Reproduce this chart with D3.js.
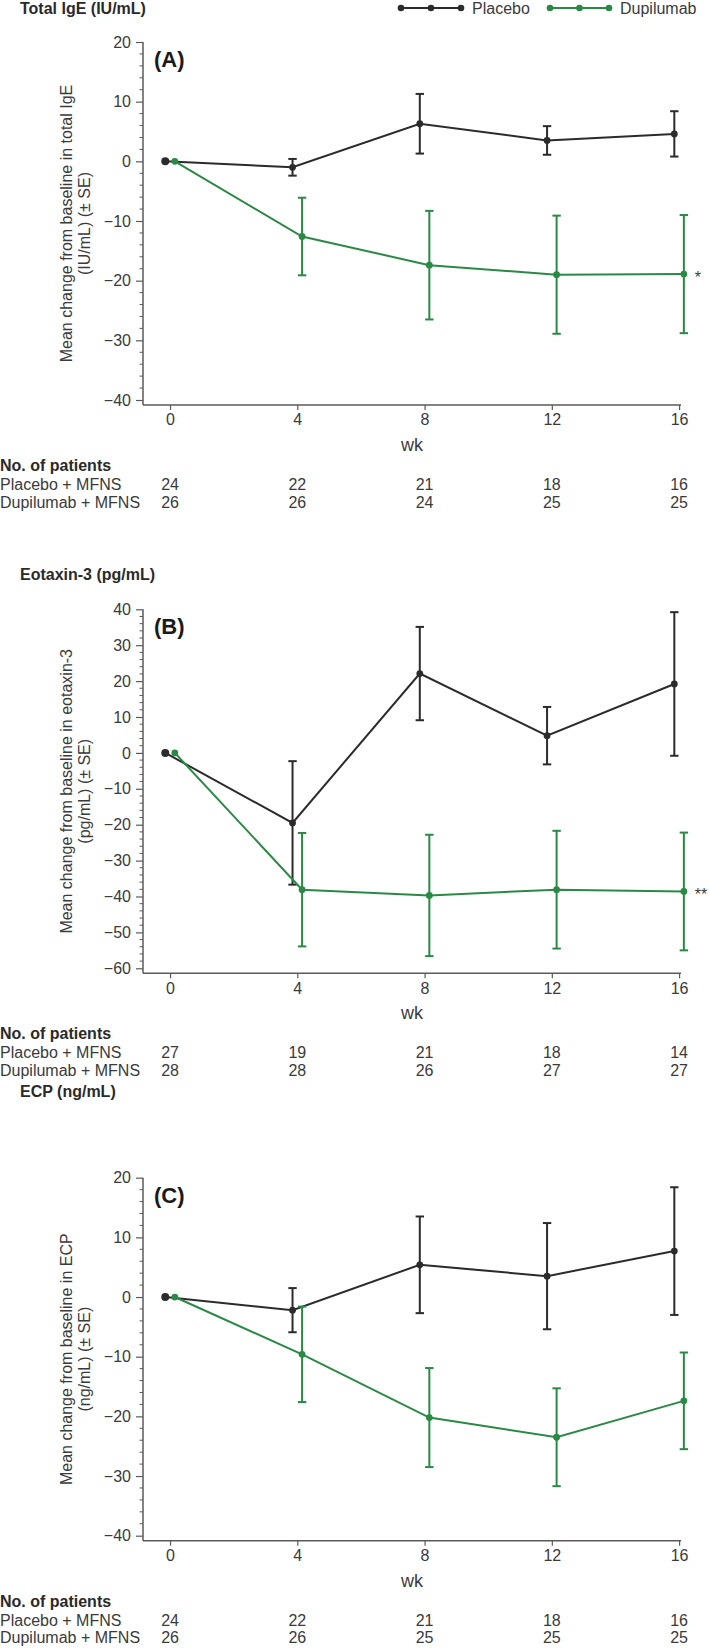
<!DOCTYPE html>
<html>
<head>
<meta charset="utf-8">
<script src="https://cdn.jsdelivr.net/npm/d3@7"></script>
<style>
  html, body { margin: 0; padding: 0; background: #fff; }
  svg { display: block; font-family: "Liberation Sans", Arial, Helvetica, sans-serif; }
</style>
</head>
<body>
<svg id="chart" width="709" height="1650"></svg>
<script>
// ---------- DATA ----------
const weeks = [0, 4, 8, 12, 16];
const seriesNames = ["Placebo", "Dupilumab"];
const rowLabels = ["Placebo + MFNS", "Dupilumab + MFNS"];

// Panel A: Total IgE (IU/mL)
const igePlaceboMean = [0, -1.0, 6.3, 3.5, 4.6];
const igePlaceboSE   = [0, 1.4, 5.0, 2.4, 3.8];
const igeDupiMean    = [0, -12.6, -17.4, -19.0, -18.9];
const igeDupiSE      = [0, 6.5, 9.1, 9.9, 9.9];
const igePlaceboN    = [24, 22, 21, 18, 16];
const igeDupiN       = [26, 26, 24, 25, 25];
const igeTicks       = [-40, -30, -20, -10, 0, 10, 20];

// Panel B: Eotaxin-3 (pg/mL)
const eotPlaceboMean = [0, -19.5, 22.1, 4.8, 19.2];
const eotPlaceboSE   = [0, 17.2, 13.0, 8.0, 20.0];
const eotDupiMean    = [0, -38.1, -39.7, -38.1, -38.6];
const eotDupiSE      = [0, 15.8, 16.9, 16.4, 16.4];
const eotPlaceboN    = [27, 19, 21, 18, 14];
const eotDupiN       = [28, 28, 26, 27, 27];
const eotTicks       = [-60, -50, -40, -30, -20, -10, 0, 10, 20, 30, 40];

// Panel C: ECP (ng/mL)
const ecpPlaceboMean = [0, -2.2, 5.4, 3.5, 7.7];
const ecpPlaceboSE   = [0, 3.7, 8.1, 8.9, 10.7];
const ecpDupiMean    = [0, -9.6, -20.2, -23.5, -17.4];
const ecpDupiSE      = [0, 8.0, 8.3, 8.2, 8.1];
const ecpPlaceboN    = [24, 22, 21, 18, 16];
const ecpDupiN       = [26, 26, 25, 25, 25];
const ecpTicks       = [-40, -30, -20, -10, 0, 10, 20];

const xTickLabels = ["0", "4", "8", "12", "16"];

// ---------- STYLE ----------
const colors = { Placebo: "#2b2b2b", Dupilumab: "#2a8a45" };
const axisColor = "#5a5a5a";
const textColor = "#3a3a3a";
const offsets = { Placebo: -0.15, Dupilumab: 0.15 };

const svg = d3.select("#chart");

const panels = [
  { title: "Total IgE (IU/mL)", letter: "(A)", top: 42, bottom: 405, yMin: -40, yMax: 20,
    ylab: ["Mean change from baseline in total IgE", "(IU/mL) (\u00b1 SE)"],
    pm: igePlaceboMean, pse: igePlaceboSE, dm: igeDupiMean, dse: igeDupiSE,
    pn: igePlaceboN, dn: igeDupiN, ticks: igeTicks, star: "*", titleY: 14 },
  { title: "Eotaxin-3 (pg/mL)", letter: "(B)", top: 609.3, bottom: 973.3, yMin: -60, yMax: 40,
    ylab: ["Mean change from baseline in eotaxin-3", "(pg/mL) (\u00b1 SE)"],
    pm: eotPlaceboMean, pse: eotPlaceboSE, dm: eotDupiMean, dse: eotDupiSE,
    pn: eotPlaceboN, dn: eotDupiN, ticks: eotTicks, star: "**", titleY: 580 },
  { title: "ECP (ng/mL)", letter: "(C)", top: 1177.7, bottom: 1540.7, yMin: -40, yMax: 20,
    ylab: ["Mean change from baseline in ECP", "(ng/mL) (\u00b1 SE)"],
    pm: ecpPlaceboMean, pse: ecpPlaceboSE, dm: ecpDupiMean, dse: ecpDupiSE,
    pn: ecpPlaceboN, dn: ecpDupiN, ticks: ecpTicks, star: null, titleY: 1097 }
];

const axisLeft = 143, axisRight = 681;
const x = d3.scaleLinear().domain([-0.85, 16.06]).range([axisLeft, axisRight]);

// Legend
const legend = svg.append("g");
const legItems = [
  { name: "Placebo", x1: 401, x2: 461, tx: 472 },
  { name: "Dupilumab", x1: 550, x2: 609, tx: 620 }
];
legItems.forEach(it => {
  const g = legend.append("g");
  g.append("line").attr("x1", it.x1).attr("x2", it.x2).attr("y1", 8).attr("y2", 8)
    .attr("stroke", colors[it.name]).attr("stroke-width", 2);
  [it.x1, (it.x1 + it.x2) / 2, it.x2].forEach(cx => {
    g.append("circle").attr("cx", cx).attr("cy", 8).attr("r", 3.3).attr("fill", colors[it.name]);
  });
  g.append("text").attr("x", it.tx).attr("y", 14).attr("font-size", 16)
    .attr("fill", textColor).text(it.name);
});

panels.forEach(p => {
  const g = svg.append("g");
  // ranges: top corresponds to yMax; axis bottom slightly below yMin
  const pxPerUnit = (p.bottom - 5 - p.top) / (p.yMax - p.yMin);
  const domainMin = p.yMin - 5 / pxPerUnit;
  const y = d3.scaleLinear().domain([domainMin, p.yMax]).range([p.bottom, p.top]);

  // title
  g.append("text").attr("x", 20).attr("y", p.titleY).attr("font-size", 16)
    .attr("font-weight", "bold").attr("fill", "#2a2a2a").text(p.title);

  // y axis major
  const yAxis = d3.axisLeft(y).tickValues(p.ticks).tickSize(7).tickPadding(5)
    .tickFormat(d3.format("d"));
  const ya = g.append("g").attr("transform", `translate(${axisLeft},0)`).call(yAxis);
  ya.select(".domain").attr("stroke", axisColor).attr("stroke-width", 1.5)
    .attr("d", `M0,${p.bottom}V${y(p.yMax)}`);
  ya.selectAll(".tick line").attr("stroke", axisColor).attr("stroke-width", 1.2);
  ya.selectAll(".tick text").attr("font-size", 16).attr("fill", textColor)
    .attr("font-family", "Liberation Sans, Arial, sans-serif");

  // minor ticks every 2
  const minor = d3.range(p.yMin, p.yMax + 0.001, 2).filter(v => v % 10 !== 0);
  g.append("g").selectAll("line").data(minor).join("line")
    .attr("x1", axisLeft - 3.5).attr("x2", axisLeft)
    .attr("y1", d => y(d)).attr("y2", d => y(d))
    .attr("stroke", axisColor).attr("stroke-width", 1);

  // x axis
  const xAxis = d3.axisBottom(x).tickValues(weeks).tickSize(5).tickPadding(4)
    .tickFormat((d, i) => xTickLabels[i]);
  const xa = g.append("g").attr("transform", `translate(0,${p.bottom})`).call(xAxis);
  xa.select(".domain").attr("stroke", axisColor).attr("stroke-width", 1.5)
    .attr("d", `M${axisLeft},0H${axisRight}`);
  xa.selectAll(".tick line").attr("stroke", axisColor).attr("stroke-width", 1.2);
  xa.selectAll(".tick text").attr("font-size", 16).attr("fill", textColor)
    .attr("font-family", "Liberation Sans, Arial, sans-serif");

  // x label
  g.append("text").attr("x", (axisLeft + axisRight) / 2).attr("y", p.bottom + 46)
    .attr("text-anchor", "middle").attr("font-size", 18).attr("fill", textColor).text("wk");

  // y label
  const cy = (p.top + p.bottom) / 2;
  p.ylab.forEach((t, i) => {
    g.append("text").attr("transform", `translate(${72 + i * 17.5},${cy}) rotate(-90)`)
      .attr("text-anchor", "middle").attr("font-size", 16).attr("fill", textColor).text(t);
  });

  // panel letter
  g.append("text").attr("x", 154).attr("y", p.top + 25).attr("font-size", 22)
    .attr("font-weight", "bold").attr("fill", "#1a1a1a").text(p.letter);

  // series
  const series = [
    { name: "Placebo", mean: p.pm, se: p.pse },
    { name: "Dupilumab", mean: p.dm, se: p.dse }
  ];
  series.forEach(s => {
    const pts = weeks.map((w, i) => ({ w: w + offsets[s.name], m: s.mean[i], se: s.se[i] }));
    const col = colors[s.name];
    const sg = g.append("g");
    // error bars
    pts.filter(d => d.se > 0).forEach(d => {
      const cx = x(d.w);
      sg.append("line").attr("x1", cx).attr("x2", cx)
        .attr("y1", y(d.m - d.se)).attr("y2", y(d.m + d.se))
        .attr("stroke", col).attr("stroke-width", 2);
      [d.m - d.se, d.m + d.se].forEach(v => {
        sg.append("line").attr("x1", cx - 4.2).attr("x2", cx + 4.2)
          .attr("y1", y(v)).attr("y2", y(v))
          .attr("stroke", col).attr("stroke-width", 2);
      });
    });
    // line
    sg.append("path").datum(pts)
      .attr("d", d3.line().x(d => x(d.w)).y(d => y(d.m)))
      .attr("fill", "none").attr("stroke", col).attr("stroke-width", 2);
    // markers
    sg.selectAll("circle").data(pts).join("circle")
      .attr("cx", d => x(d.w)).attr("cy", d => y(d.m))
      .attr("r", (d, i) => (i === 0 && s.name === "Placebo") ? 4 : 3.4)
      .attr("fill", col);
  });

  // significance marker
  if (p.star) {
    g.append("text").attr("x", x(16 + offsets.Dupilumab) + 11).attr("y", y(p.dm[4]) + 9)
      .attr("font-size", 16).attr("fill", textColor).text(p.star);
  }

  // patients table
  const base = p.bottom;
  g.append("text").attr("x", 0).attr("y", base + 66).attr("font-size", 16)
    .attr("font-weight", "bold").attr("fill", "#2a2a2a").text("No. of patients");
  [p.pn, p.dn].forEach((arr, r) => {
    const ty = base + 85 + r * 17.5;
    g.append("text").attr("x", 0).attr("y", ty).attr("font-size", 16)
      .attr("fill", textColor).text(rowLabels[r]);
    arr.forEach((n, i) => {
      g.append("text").attr("x", x(weeks[i])).attr("y", ty).attr("text-anchor", "middle")
        .attr("font-size", 16).attr("fill", textColor).text(n);
    });
  });
});
</script>
</body>
</html>
